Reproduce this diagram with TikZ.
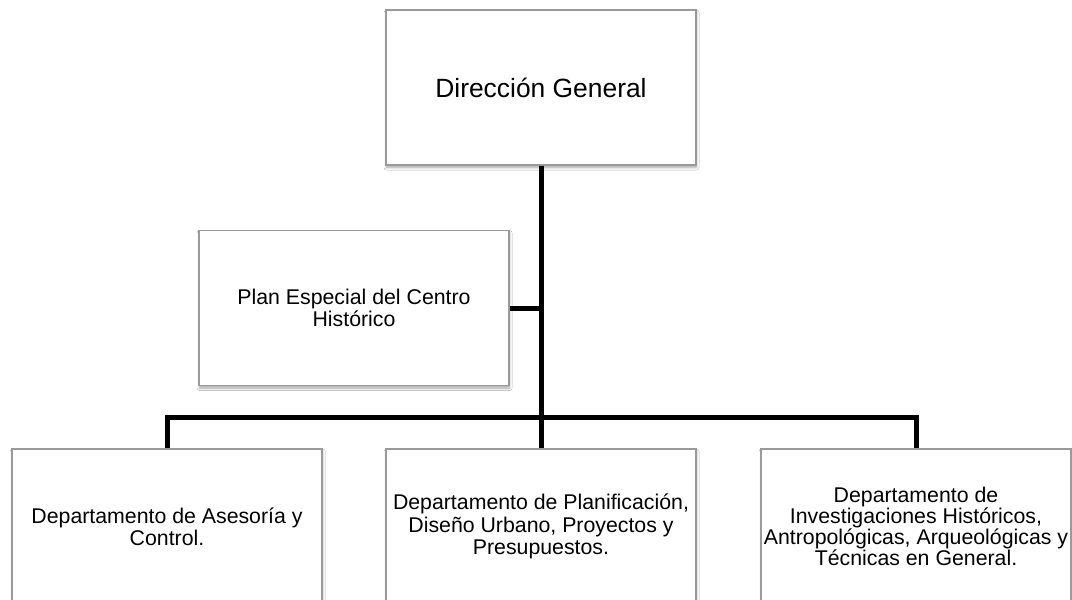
\documentclass[tikz,border=0pt]{standalone}
\usepackage{fontspec}
\setmainfont{Liberation Sans}
\usetikzlibrary{shadows.blur}
\definecolor{boxgray}{HTML}{9A9A9A}
\begin{document}
\begin{tikzpicture}[x=1pt,y=-1pt,
  orgbox/.style={draw=boxgray, line width=1.4pt, fill=white,
    minimum width=310pt, minimum height=155pt, inner sep=0pt,
    align=center, text=black,
    blur shadow={shadow xshift=0.6pt, shadow yshift=-2.5pt,
      shadow blur radius=2.5pt, shadow blur steps=6, shadow opacity=35}},
  deptfont/.style={font=\fontsize{21.3}{22.3}\selectfont},
  conn/.style={line width=5pt, black, line join=miter}]
\useasboundingbox[fill=white] (0,0) rectangle (1072,600);

\node[orgbox, font=\fontsize{26.4}{30}\selectfont] (top) at (541,87.5) {Dirección General};
\node[orgbox, deptfont] (plan) at (354,308) {Plan Especial del Centro\\Histórico};
\node[orgbox, deptfont] (left) at (167,526.5) {Departamento de Asesoría y\\Control.};
\node[orgbox, deptfont] (mid) at (541,526.5) {Departamento de Planificación,\\Diseño Urbano, Proyectos y\\Presupuestos.};
\node[orgbox, font=\fontsize{21.3}{19.4}\selectfont] (right) at (916,526.5) {Departamento de\\Investigaciones Históricos,\\Antropológicas, Arqueológicas y\\Técnicas en General.};

\coordinate (bar) at (541,417);
\draw[conn] (top.south) -- (mid.north);
\draw[conn] (plan.east) -- (plan.east -| top.south);
\draw[conn] (left.north) |- (bar) -| (right.north);
\end{tikzpicture}
\end{document}
